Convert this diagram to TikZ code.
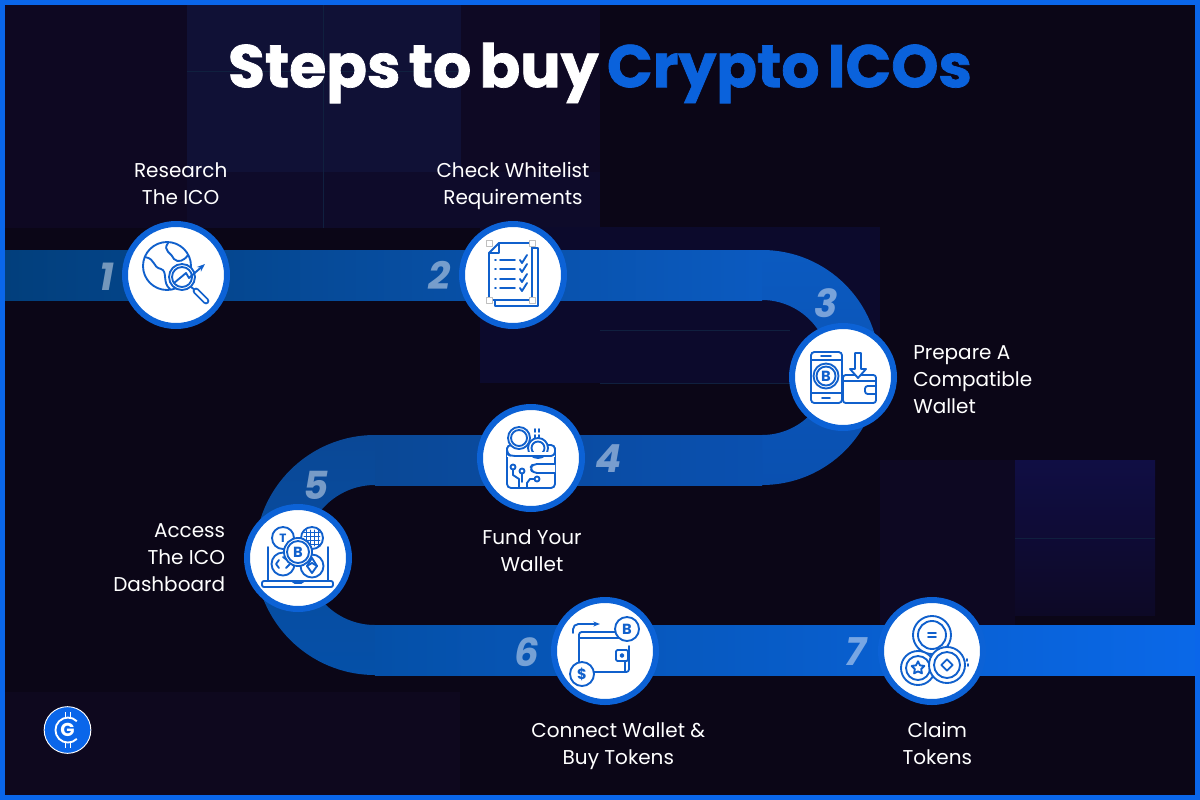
\documentclass[tikz,border=0pt]{standalone}
\usepackage{fontspec}
\setmainfont{Poppins}
\newfontfamily\titlefont[WordSpace=0.65,BoldFeatures={FakeBold=1.2}]{Poppins}
\usetikzlibrary{positioning}
\usetikzlibrary{shapes.geometric}
\usetikzlibrary{arrows.meta}
\definecolor{framecol}{HTML}{0A66EA}
\definecolor{ringcol}{HTML}{0C62D6}
\definecolor{iconcol}{HTML}{1060CC}
\definecolor{titlecol}{HTML}{0A62DC}
\definecolor{basecol}{HTML}{0B0617}
\definecolor{seamcol}{HTML}{10203F}
\tikzset{
    stepcircle/.style={circle, fill=white, draw=ringcol, line width=4.5pt, minimum size=76.5pt, inner sep=0pt},
    steplabel/.style={text=white, font=\fontsize{15}{20.2}\selectfont, inner sep=0pt},
    stepnumber/.style={text=white, text opacity=0.45, font=\fontsize{29}{29}\selectfont\bfseries\itshape, inner sep=0pt},
    iconline/.style={draw=iconcol, line width=1.4pt, line cap=round, line join=round},
    icontext/.style={text=iconcol, font=\fontsize{11}{11}\selectfont\bfseries, inner sep=0pt},
    tile/.style={draw=none},
    seam/.style={draw=seamcol, line width=0.6pt}
}
\begin{document}
\begin{tikzpicture}[x=0.75pt, y=-0.75pt]
    \useasboundingbox (0,0) rectangle (1200,800);
    % background
    \fill[basecol] (0,0) rectangle (1200,800);
    \fill[tile, fill={rgb,255:red,14;green,8;blue,34}] (5,0) rectangle (187,228);
    \fill[tile, fill={rgb,255:red,16;green,17;blue,54}] (187,0) rectangle (461,172);
    \fill[tile, fill={rgb,255:red,14;green,11;blue,42}] (187,172) rectangle (600,228);
    \fill[tile, fill={rgb,255:red,14;green,9;blue,36}] (461,0) rectangle (600,172);
    \fill[tile, fill={rgb,255:red,12;green,10;blue,44}] (480,227) rectangle (880,383);
    \fill[tile, fill={rgb,255:red,13;green,8;blue,34}] (880,460) rectangle (1015,625);
    \shade[top color={rgb,255:red,16;green,14;blue,68}, bottom color={rgb,255:red,13;green,9;blue,38}] (1015,460) rectangle (1155,615);
    \fill[tile, fill={rgb,255:red,14;green,8;blue,30}] (5,692) rectangle (460,795);
    \draw[seam] (323,5) -- (323,228);
    \draw[seam] (187,71) -- (460,71);
    \draw[seam] (600,330) -- (790,330);
    \draw[seam] (600,383) -- (800,383);
    \draw[seam] (1015,538) -- (1155,538);

    % ribbon
    \shade[left color={rgb,255:red,2;green,63;blue,124}, right color={rgb,255:red,11;green,90;blue,192}] (5,250) rectangle (762,300);
    \shade[top color={rgb,255:red,11;green,90;blue,192}, bottom color={rgb,255:red,10;green,80;blue,176}]
        (762,250) arc[start angle=-90, end angle=90, radius=117.5] -- (762,435)
        arc[start angle=90, end angle=-90, radius=67.5] -- cycle;
    \shade[left color={rgb,255:red,10;green,72;blue,150}, right color={rgb,255:red,10;green,80;blue,176}] (375,435) rectangle (762,485);
    \shade[top color={rgb,255:red,10;green,72;blue,150}, bottom color={rgb,255:red,5;green,80;blue,168}]
        (375,435) arc[start angle=270, end angle=90, radius=120] -- (375,625)
        arc[start angle=90, end angle=270, radius=70] -- cycle;
    \shade[left color={rgb,255:red,5;green,80;blue,168}, right color={rgb,255:red,10;green,104;blue,232}] (375,625) rectangle (1196,675);

    % frame
    \draw[framecol, line width=3.75pt] (2.5,2.5) rectangle (1197.5,797.5);

    % title
    \node[font=\fontsize{45}{45}\selectfont\titlefont\bfseries, text=white, inner sep=0pt] (title) at (600,73)
        {Steps to buy \textcolor{titlecol}{Crypto ICOs}};

    % steps
    \node[stepcircle] (research) at (176,275) {};
    \node[stepcircle] (whitelist) at (513,275) {};
    \node[stepcircle] (prepare) at (843,377) {};
    \node[stepcircle] (fund) at (531,458) {};
    \node[stepcircle] (access) at (298,558) {};
    \node[stepcircle] (connect) at (605,651) {};
    \node[stepcircle] (claim) at (932,651) {};

    \node[stepnumber] (numone) at (107,277) {1};
    \node[stepnumber] (numtwo) at (440,275) {2};
    \node[stepnumber] (numthree) at (826,303) {3};
    \node[stepnumber] (numfour) at (609,459) {4};
    \node[stepnumber] (numfive) at (316,485) {5};
    \node[stepnumber] (numsix) at (527,652) {6};
    \node[stepnumber] (numseven) at (856,652) {7};

    \node[steplabel, align=center, above=12.25pt of research, xshift=3.5pt] (labelresearch) {Research\\The ICO};
    \node[steplabel, align=center, above=8.5pt of whitelist] (labelwhitelist) {Check Whitelist\\Requirements};
    \node[steplabel, align=left, right=12pt of prepare, yshift=-2.25pt] (labelprepare) {Prepare A\\Compatible\\Wallet};
    \node[steplabel, align=center, below=13pt of fund, xshift=0.75pt] (labelfund) {Fund Your\\Wallet};
    \node[steplabel, align=right, left=14pt of access] (labelaccess) {Access\\The ICO\\Dashboard};
    \node[steplabel, align=center, below=13pt of connect, xshift=10pt] (labelconnect) {Connect Wallet \&\\Buy Tokens};
    \node[steplabel, align=center, below=13pt of claim, xshift=4pt] (labelclaim) {Claim\\Tokens};

    % icon: research
    \begin{scope}[shift={(research)}, iconline]
        \draw (-9,-9) circle[radius=24];
        \draw (-31,-18) .. controls (-20,-16) and (-24,-8) .. (-15,-6) .. controls (-8,-4) and (-14,8) .. (-6,14);
        \draw (-8,-32) .. controls (-14,-24) and (-4,-22) .. (-2,-16) .. controls (2,-12) and (8,-14) .. (12,-20);
        \fill[white] (6,2) circle[radius=13];
        \draw (6,2) circle[radius=13];
        \draw (6,2) circle[radius=10];
        \draw (15,12) -- (19,15);
        \draw[line width=5pt, line cap=round] (20,16) -- (30,26);
        \draw[draw=white, line width=2.2pt, line cap=round] (20,16) -- (30,26);
        \draw[-{Stealth[length=6pt]}] (-2,8) -- (10,-2) -- (13,3) -- (29,-11);
    \end{scope}

    % icon: whitelist
    \begin{scope}[shift={(whitelist)}, iconline]
        \draw (-18,25) -- (-18,31) -- (25,31) -- (25,-27) -- (19,-27);
        \draw[fill=white] (-14,-32) -- (19,-32) -- (19,25) -- (-24,25) -- (-24,-22) -- cycle;
        \draw (-14,-32) -- (-14,-22) -- (-24,-22);
        \foreach \rowy in {-15,-6,4,13} {
            \draw (-18,\rowy) -- (-17,\rowy);
            \draw (-13,\rowy) -- (2,\rowy);
            \draw (7,\rowy) -- (9,\rowy+3) -- (14,\rowy-5);
        }
        % corner handles left in the artwork
        \foreach \cornx/\corny in {-24/-32,19/-32,-24/25,19/25} {
            \draw[draw=black!25, line width=0.5pt, fill=white] (\cornx-3,\corny-3) rectangle (\cornx+3,\corny+3);
        }
    \end{scope}

    % icon: prepare
    \begin{scope}[shift={(prepare)}, iconline]
        \draw[rounded corners=2.5pt] (-32,-25) rectangle (-1,26);
        \draw (-32,-17) -- (-1,-17);
        \draw (-32,16) -- (-1,16);
        \draw (-22,-21) -- (-12,-21);
        \draw (-21,21) -- (-13,21);
        \draw (-17,-1) circle[radius=12.5];
        \draw (-17,-1) circle[radius=9.5];
        \node[icontext] (coinprepare) at (-17,-1) {B};
        \draw[rounded corners=2pt] (0,-2) rectangle (33,26);
        \draw (0,4) -- (33,4);
        \draw[rounded corners=2pt] (33,9) -- (22,9) -- (22,17) -- (33,17);
        \draw[fill=white] (12,-24) -- (18,-24) -- (18,-8) -- (23,-8) -- (15,1) -- (7,-8) -- (12,-8) -- cycle;
    \end{scope}

    % icon: fund
    \begin{scope}[shift={(fund)}, iconline]
        \draw[rounded corners=3pt] (-24,-13) rectangle (24,30);
        \draw[rounded corners=3pt, fill=white] (24,6) -- (2,6) -- (-1,10) -- (2,15) -- (24,15);
        \draw[fill=white] (-12,-20) circle[radius=11];
        \draw (-12,-20) circle[radius=8];
        \draw[fill=white] (7,-10) circle[radius=10];
        \draw (7,-10) circle[radius=6.5];
        \fill[white] (-24,-6) rectangle (24,-1);
        \draw[rounded corners=3pt] (-24,-10) -- (-24,-4) -- (-20,-2) -- (24,-2) -- (24,-10);
        \draw (4,-29) -- (4,-26) (8,-29) -- (8,-26) (4,-23) -- (4,-20) (8,-23) -- (8,-20);
        \draw (-18,9) circle[radius=2.5];
        \draw (-18,11.5) -- (-18,17) -- (-12,21) -- (-12,30);
        \draw (-9,13) circle[radius=2.5];
        \draw (-9,15.5) -- (-9,24);
        \draw (6,21) circle[radius=2.5];
        \draw (3.5,21) -- (-1,21) -- (-4,25) -- (-4,30);
    \end{scope}

    % icon: access
    \begin{scope}[shift={(access)}, iconline]
        \draw[rounded corners=2pt] (-30,23) -- (-30,-11);
        \draw[rounded corners=2pt] (30,23) -- (30,-11);
        \draw[rounded corners=1.5pt] (-36,23) rectangle (35,29);
        \draw (-6,23) -- (-3,25) -- (3,25) -- (6,23);
        \draw[fill=white] (-15,-20) circle[radius=11];
        \node[icontext, font=\fontsize{9}{9}\selectfont\bfseries] (coinusdt) at (-15,-20) {T};
        \draw[fill=white] (14,-20) circle[radius=11];
        \foreach \gridx in {-6,-2,2,6} {
            \draw[line width=0.6pt] (14+\gridx,-28) -- (14+\gridx,-12);
            \draw[line width=0.6pt] (6,-20+\gridx) -- (22,-20+\gridx);
        }
        \draw[fill=white] (-15,6) circle[radius=11.5];
        \draw (-19,2) -- (-22,6) -- (-19,10) (-12,10) -- (-8,6) (-15,-1) -- (-11,2);
        \draw[fill=white] (14,8) circle[radius=11.5];
        \draw (14,0) -- (9,8) -- (14,15) -- (19,8) -- cycle;
        \draw (9,8) -- (14,5) -- (19,8);
        \draw[fill=white] (0,-6) circle[radius=14];
        \draw (0,-6) circle[radius=11];
        \node[icontext] (coinaccess) at (0,-6) {B};
    \end{scope}

    % icon: connect
    \begin{scope}[shift={(connect)}, iconline]
        \draw[rounded corners=2pt] (24,-19) -- (-26,-19) -- (-26,21) -- (24,21) -- (24,-5);
        \draw (-26,-13) -- (16,-13);
        \draw (20,9) -- (20,21);
        \draw[rounded corners=4pt, -{Stealth[length=5pt]}] (-32,-18) -- (-32,-27) -- (-5,-27);
        \draw[fill=white] (22,-22) circle[radius=12];
        \node[icontext] (coinconnect) at (22,-22) {B};
        \draw[fill=white] (-23,23) circle[radius=12];
        \node[icontext] (dollarconnect) at (-23,23) {\$};
        \draw[fill=white, rounded corners=1pt] (11,-1) rectangle (23,10);
        \draw (17,4.5) circle[radius=1.5];
    \end{scope}

    % icon: claim
    \begin{scope}[shift={(claim)}, iconline]
        \draw (0,-16) circle[radius=19];
        \draw (0,-16) circle[radius=14];
        \draw (-4,-18) -- (4,-18) (-4,-14) -- (4,-14);
        \draw[fill=white] (-14,17) circle[radius=17];
        \draw (-14,17) circle[radius=12];
        \node[iconline, star, star points=5, star point ratio=2, minimum size=10pt, inner sep=0pt] (starclaim) at (-14,17) {};
        \draw[fill=white] (15,14) circle[radius=18];
        \draw (15,14) circle[radius=13];
        \node[iconline, diamond, aspect=0.6, minimum size=9pt, inner sep=0pt] (diamondclaim) at (15,14) {};
        \draw (35,8) -- (35,10) (36,13) -- (36,15);
    \end{scope}

    % logo
    \node[circle, fill=framecol, draw=white, line width=0.7pt, minimum size=35pt, inner sep=0pt, font=\fontsize{14}{14}\selectfont\bfseries, text=white] (logo) at (67.5,730) {G};
    \draw[white, line width=1.4pt] (76.8,721.2) arc[start angle=-45, end angle=-315, radius=12.5];
    \draw[white, line width=1pt] (65.5,712) -- (65.5,718) (70.5,712) -- (70.5,718) (65.5,742) -- (65.5,748) (70.5,742) -- (70.5,748);
\end{tikzpicture}
\end{document}
